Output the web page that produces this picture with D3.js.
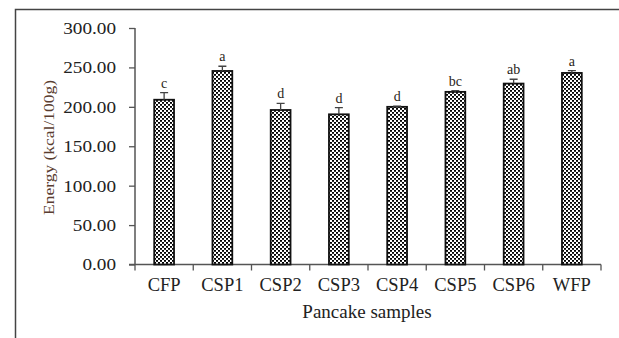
<!DOCTYPE html>
<html><head><meta charset="utf-8">
<script src="https://cdn.jsdelivr.net/npm/d3@7"></script>
<style>
html,body{margin:0;padding:0;background:#fff;}
svg{display:block;font-family:"Liberation Serif","Times New Roman",serif;}
</style></head>
<body>
<svg id="c" width="619" height="338"></svg>
<script>
const categories = ["CFP","CSP1","CSP2","CSP3","CSP4","CSP5","CSP6","WFP"];
const energy = [209, 245.5, 196, 190.5, 200, 219, 229.5, 243];
const errors = [9, 6, 8.5, 8.5, 1, 1.5, 5.5, 3];
const letters = ["c","a","d","d","d","bc","ab","a"];
const yTicks = [0,50,100,150,200,250,300];
const yTitle = "Energy  (kcal/100g)";
const xTitle = "Pancake samples";

const svg = d3.select("#c");
const defs = svg.append("defs");
const pat = defs.append("pattern").attr("id","dots").attr("patternUnits","userSpaceOnUse")
  .attr("width",4).attr("height",4);
pat.append("rect").attr("width",4).attr("height",4).attr("fill","#fff");
pat.append("rect").attr("x",0).attr("y",0).attr("width",2).attr("height",1.8).attr("fill","#000");
pat.append("rect").attr("x",2).attr("y",2).attr("width",2).attr("height",1.8).attr("fill","#000");

// frame
svg.append("path").attr("d","M15.5,338 V9.5 H619").attr("fill","none").attr("stroke","#444").attr("stroke-width",1.5);

const x = d3.scaleBand().domain(categories).range([135,601]).padding(0);
const y = d3.scaleLinear().domain([0,300]).range([264.5,28]);

// y axis
const yAxis = svg.append("g").attr("transform","translate(135,0)")
  .call(d3.axisLeft(y).tickValues(yTicks).tickSize(6).tickPadding(0).tickFormat(d3.format(".2f")));
yAxis.select(".domain").attr("stroke","#555").attr("stroke-width",1.5).attr("d","M0,28V264.5");
yAxis.selectAll(".tick line").attr("stroke","#555").attr("stroke-width",1.3);
yAxis.selectAll(".tick text").attr("x",0).attr("dy","0.34em")
  .attr("transform","translate(-19,0) scale(1.2,1)")
  .attr("font-size",16).attr("fill","#222").attr("font-family","Liberation Serif");

// x axis
const xAxis = svg.append("g").attr("transform","translate(0,264.5)");
xAxis.append("line").attr("x1",129).attr("x2",601).attr("stroke","#555").attr("stroke-width",1.5);
const bounds = categories.map(c=>x(c)).concat([x.range()[1]]);
xAxis.selectAll("line.tk").data(bounds).join("line").attr("class","tk")
  .attr("x1",d=>d).attr("x2",d=>d).attr("y1",0).attr("y2",6).attr("stroke","#555").attr("stroke-width",1.3);
xAxis.selectAll("text").data(categories).join("text")
  .attr("x",d=>x(d)+x.bandwidth()/2).attr("y",26)
  .attr("text-anchor","middle").attr("font-size",18.5).attr("fill","#222").text(d=>d);

// bars
const bw = x.bandwidth()*0.34;
const data = categories.map((c,i)=>({c, v:energy[i], e:errors[i], l:letters[i]}));
const g = svg.append("g");
g.selectAll("rect.bar").data(data).join("rect").attr("class","bar")
  .attr("x",d=>x(d.c)+x.bandwidth()/2-bw/2).attr("width",bw)
  .attr("y",d=>y(d.v)).attr("height",d=>y(0)-y(d.v))
  .attr("fill","url(#dots)").attr("stroke","#111").attr("stroke-width",1.8);
// error bars
g.selectAll("path.err").data(data).join("path").attr("class","err")
  .attr("d",d=>{const cx=x(d.c)+x.bandwidth()/2; const t=y(d.v+d.e);
    return `M${cx},${y(d.v)}V${t}M${cx-4},${t}H${cx+4}`;})
  .attr("stroke","#444").attr("stroke-width",1.3).attr("fill","none");
// letters
g.selectAll("text.lt").data(data).join("text").attr("class","lt")
  .attr("x",d=>x(d.c)+x.bandwidth()/2).attr("y",d=>y(d.v+d.e)-5)
  .attr("text-anchor","middle").attr("font-size",14).attr("fill","#2a1e18").text(d=>d.l);

// titles
svg.append("text").attr("transform","translate(54,147.5) rotate(-90)")
  .attr("text-anchor","middle").attr("font-size",15.5).attr("fill","#5a3d30")
  .attr("textLength",135).attr("lengthAdjust","spacingAndGlyphs").text(yTitle);
svg.append("text").attr("x",367).attr("y",318).attr("text-anchor","middle")
  .attr("font-size",19).attr("fill","#222").text(xTitle);
</script>
</body></html>
